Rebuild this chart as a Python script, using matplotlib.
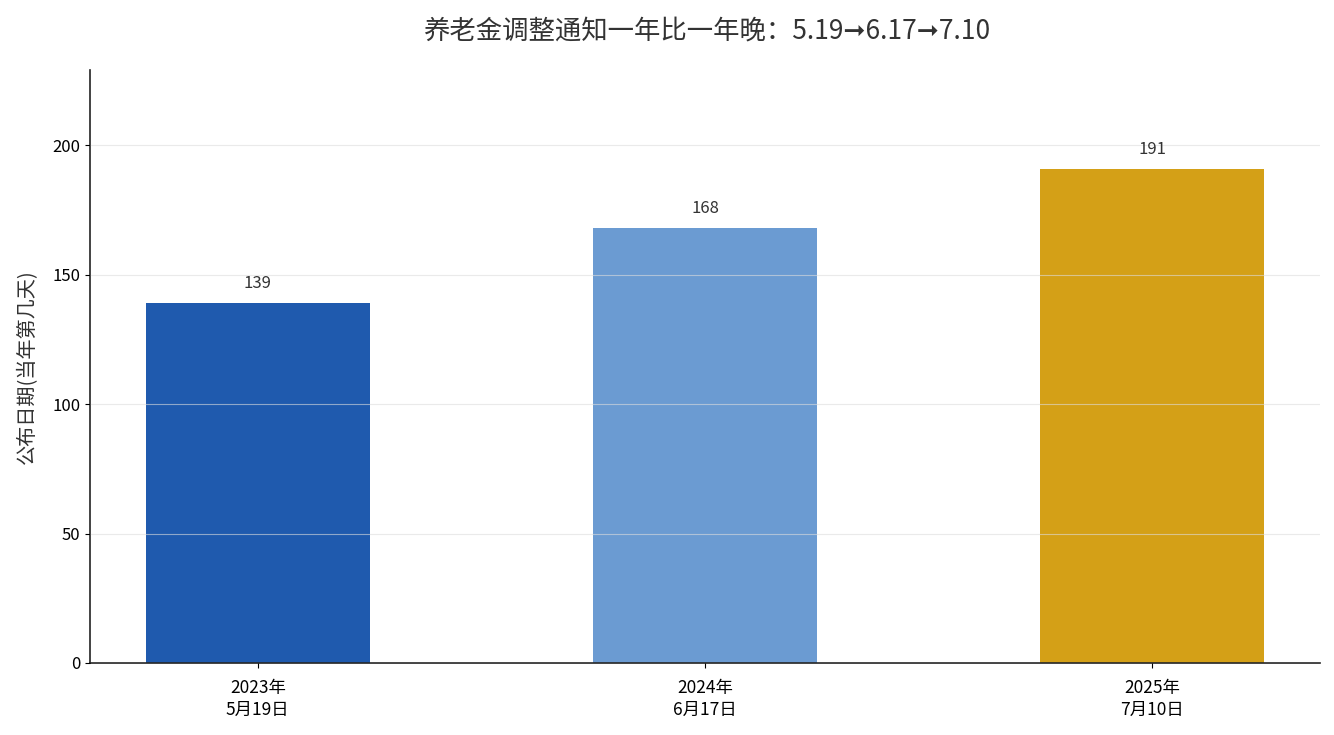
import matplotlib
matplotlib.use("Agg")
import matplotlib.pyplot as plt

plt.rcParams['font.family'] = ['Noto Sans CJK SC', 'DejaVu Sans']
plt.rcParams['axes.unicode_minus'] = False

categories = ["2023年\n5月19日", "2024年\n6月17日", "2025年\n7月10日"]
day_of_year = [139, 168, 191]
colors = ["#1f5aae", "#6b9bd2", "#d4a017"]
title = "养老金调整通知一年比一年晚：5.19➞6.17➞7.10"
ylabel = "公布日期(当年第几天)"

fig = plt.figure(figsize=(13.34, 7.35), dpi=100)
ax = fig.add_axes([0.0675, 0.098, 0.922, 0.807])

x = list(range(len(categories)))
bars = ax.bar(x, day_of_year, width=0.5, color=colors, zorder=1)
ax.set_ylim(0, max(day_of_year) * 1.2)
ax.set_yticks([0, 50, 100, 150, 200])
ax.set_xticks(x)
ax.set_xticklabels(categories, fontsize=12.5, color="black", linespacing=1.25)
ax.tick_params(axis='x', pad=8)
ax.tick_params(axis='y', labelsize=12, colors="black")
ax.grid(axis='y', color="#dddddd", alpha=0.6, linewidth=0.8, zorder=3)
ax.set_axisbelow(False)
for s in ["top", "right"]:
    ax.spines[s].set_visible(False)
for s in ["left", "bottom"]:
    ax.spines[s].set_linewidth(1.2)
    ax.spines[s].set_color("#222222")

for b, v in zip(bars, day_of_year):
    ax.annotate(str(v), (b.get_x() + b.get_width() / 2, v), xytext=(0, 8),
                textcoords="offset points", ha="center", va="bottom",
                fontsize=12, color="#333333")

ax.set_ylabel(ylabel, fontsize=14.5, color="#333333", labelpad=10)
fig.text(0.53, 0.958, title, fontsize=19, color="#333333", ha="center", va="center",
         family=['Noto Sans CJK SC', 'DejaVu Sans'])

fig.savefig("out.png", dpi=100)
